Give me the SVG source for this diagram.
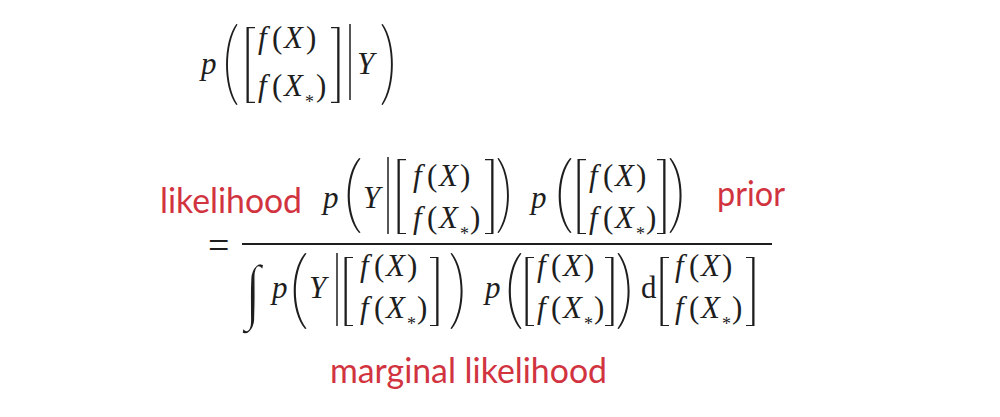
<svg xmlns="http://www.w3.org/2000/svg" xmlns:xlink="http://www.w3.org/1999/xlink" width="1000" height="417" viewBox="0 0 1000 417">
<style>
.m{font-family:"Liberation Serif","Times New Roman",serif;font-size:31px;fill:#1e1e1e}
.i{font-style:italic}
.s{font-size:18px}
.lab{font-family:Lato,"Open Sans",sans-serif;font-size:34px;fill:#d1343f}
.d{fill:#1e1e1e}
.bar{stroke:#1e1e1e;stroke-width:1.5}
</style>
<defs>
<symbol id="lp" viewBox="0 0 20 80" preserveAspectRatio="none"><path class="d" d="M18,0 C2,18 2,62 18,80 L19.5,79.5 C4.5,60 4.5,20 19.5,0.5 Z"/></symbol>
<symbol id="rp" viewBox="0 0 20 80" preserveAspectRatio="none"><path class="d" d="M2,0 C18,18 18,62 2,80 L0.5,79.5 C15.5,60 15.5,20 0.5,0.5 Z"/></symbol>
<symbol id="lb" viewBox="0 0 10 80" preserveAspectRatio="none"><path class="d" d="M10,0 H1.5 V80 H10 V78.8 H3.8 V1.2 H10 Z"/></symbol>
<symbol id="rb" viewBox="0 0 10 80" preserveAspectRatio="none"><path class="d" d="M0,0 H8.5 V80 H0 V78.8 H6.2 V1.2 H0 Z"/></symbol>
</defs>
<rect width="1000" height="417" fill="#ffffff"/>

<g id="top-expr">
<text class="m i" x="201" y="74">p</text>
<use href="#lp" x="221" y="24" width="17" height="81"/>
<use href="#lb" x="245" y="27" width="10" height="76"/>
<text class="m" y="48"><tspan class="i" x="258">f</tspan><tspan x="272">(</tspan><tspan class="i" x="284">X</tspan><tspan x="306">)</tspan></text>
<text class="m" y="96"><tspan class="i" x="258">f</tspan><tspan x="272">(</tspan><tspan class="i" x="284">X</tspan><tspan x="316">)</tspan></text>
<text class="m s" x="305" y="108">*</text>
<use href="#rb" x="331" y="27" width="10" height="76"/>
<line class="bar" x1="350" y1="24" x2="350" y2="100"/>
<text class="m i" x="357" y="74">Y</text>
<use href="#rp" x="381" y="24" width="17" height="81"/>
</g>

<g id="numerator">
<text class="m i" x="323" y="208">p</text>
<use href="#lp" x="342" y="158" width="19" height="75"/>
<text class="m i" x="363" y="208">Y</text>
<line class="bar" x1="388" y1="157" x2="388" y2="234"/>
<use href="#lb" x="396" y="159" width="10" height="75"/>
<text class="m" y="186"><tspan class="i" x="413">f</tspan><tspan x="427">(</tspan><tspan class="i" x="439">X</tspan><tspan x="460">)</tspan></text>
<text class="m" y="228"><tspan class="i" x="413">f</tspan><tspan x="427">(</tspan><tspan class="i" x="439">X</tspan><tspan x="470">)</tspan></text>
<text class="m s" x="460" y="240">*</text>
<use href="#rb" x="485" y="159" width="10" height="75"/>
<use href="#rp" x="497" y="158" width="17" height="75"/>
<text class="m i" x="531" y="208">p</text>
<use href="#lp" x="553" y="158" width="19" height="75"/>
<use href="#lb" x="576" y="159" width="10" height="75"/>
<text class="m" y="186"><tspan class="i" x="589">f</tspan><tspan x="603">(</tspan><tspan class="i" x="615">X</tspan><tspan x="636">)</tspan></text>
<text class="m" y="228"><tspan class="i" x="589">f</tspan><tspan x="603">(</tspan><tspan class="i" x="615">X</tspan><tspan x="646">)</tspan></text>
<text class="m s" x="636" y="240">*</text>
<use href="#rb" x="657" y="159" width="10" height="75"/>
<use href="#rp" x="669" y="158" width="18" height="75"/>
</g>

<g id="fraction-bar">
<text class="m" x="208" y="258" style="font-size:38px">=</text>
<line x1="242" y1="244" x2="772" y2="244" stroke="#1e1e1e" stroke-width="1.8"/>
</g>

<g id="denominator">
<text class="m" x="253" y="315" text-anchor="middle" transform="translate(253 0) scale(0.8 1) translate(-253 0)" style="font-size:72px" stroke="#ffffff" stroke-width="1.6">∫</text>
<text class="m i" x="272" y="298">p</text>
<use href="#lp" x="288" y="253" width="19" height="76"/>
<text class="m i" x="309" y="298">Y</text>
<line class="bar" x1="337" y1="253" x2="337" y2="326"/>
<use href="#lb" x="343" y="257" width="10" height="69"/>
<text class="m" y="276"><tspan class="i" x="360">f</tspan><tspan x="374">(</tspan><tspan class="i" x="386">X</tspan><tspan x="407">)</tspan></text>
<text class="m" y="318"><tspan class="i" x="360">f</tspan><tspan x="374">(</tspan><tspan class="i" x="386">X</tspan><tspan x="417">)</tspan></text>
<text class="m s" x="407" y="330">*</text>
<use href="#rb" x="430" y="257" width="10" height="69"/>
<use href="#rp" x="450" y="253" width="18" height="76"/>
<text class="m i" x="485" y="298">p</text>
<use href="#lp" x="503" y="253" width="19" height="76"/>
<use href="#lb" x="524" y="257" width="10" height="69"/>
<text class="m" y="276"><tspan class="i" x="537">f</tspan><tspan x="551">(</tspan><tspan class="i" x="563">X</tspan><tspan x="584">)</tspan></text>
<text class="m" y="318"><tspan class="i" x="537">f</tspan><tspan x="551">(</tspan><tspan class="i" x="563">X</tspan><tspan x="594">)</tspan></text>
<text class="m s" x="584" y="330">*</text>
<use href="#rb" x="605" y="257" width="10" height="69"/>
<use href="#rp" x="617" y="253" width="18" height="76"/>
<text class="m" x="641" y="298">d</text>
<use href="#lb" x="659" y="257" width="10" height="69"/>
<text class="m" y="276"><tspan class="i" x="675">f</tspan><tspan x="689">(</tspan><tspan class="i" x="701">X</tspan><tspan x="722">)</tspan></text>
<text class="m" y="318"><tspan class="i" x="675">f</tspan><tspan x="689">(</tspan><tspan class="i" x="701">X</tspan><tspan x="732">)</tspan></text>
<text class="m s" x="722" y="330">*</text>
<use href="#rb" x="746" y="257" width="10" height="69"/>
</g>

<g id="label-likelihood"><text class="lab" x="160" y="213" textLength="142" lengthAdjust="spacingAndGlyphs">likelihood</text></g>
<g id="label-prior"><text class="lab" x="717" y="206" textLength="68" lengthAdjust="spacingAndGlyphs">prior</text></g>
<g id="label-marginal"><text class="lab" x="330" y="383" textLength="277" lengthAdjust="spacingAndGlyphs">marginal likelihood</text></g>
<g id="connectors"></g>
</svg>
